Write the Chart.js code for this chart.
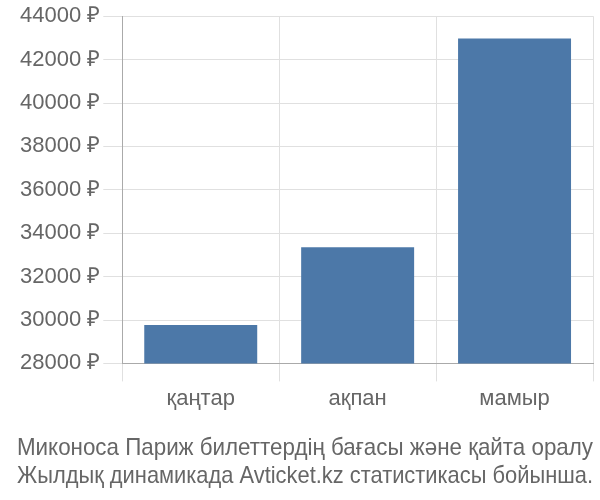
<!DOCTYPE html>
<html>
<head>
<meta charset="utf-8">
<script src="https://cdn.jsdelivr.net/npm/chart.js@4"></script>
<style>
html,body{margin:0;padding:0;background:#fff;}
#wrap{width:600px;height:500px;position:relative;}
</style>
</head>
<body>
<div id="wrap"><canvas id="c" width="600" height="500"></canvas></div>
<script>
const categories = ["қаңтар", "ақпан", "мамыр"];
const prices = [29770, 33350, 42970];
const yTicks = [28000, 30000, 32000, 34000, 36000, 38000, 40000, 42000, 44000];
const captionLines = ["Миконоса Париж билеттердің бағасы және қайта оралу", "Жылдық динамикада Avticket.kz статистикасы бойынша."];

const FONT = "'Liberation Sans', Arial, sans-serif";
new Chart(document.getElementById('c'), {
  type: 'bar',
  data: {
    labels: categories,
    datasets: [{
      data: prices,
      backgroundColor: '#4c78a8',
      borderWidth: 0,
      barPercentage: 0.9,
      categoryPercentage: 0.8
    }]
  },
  options: {
    responsive: false,
    animation: false,
    devicePixelRatio: 1,
    layout: { padding: { top: 4, right: 7, left: 17, bottom: 0 } },
    plugins: {
      legend: { display: false },
      tooltip: { enabled: false },
      title: {
        display: true,
        position: 'bottom',
        text: captionLines,
        color: '#666',
        font: { family: FONT, size: 24, weight: 'normal', lineHeight: 1.15 },
        padding: { top: 19, bottom: 10 }
      }
    },
    scales: {
      x: {
        grid: { color: '#e0e0e0', lineWidth: 1, tickLength: 18, offset: true, drawTicks: true },
        border: { color: '#aaa' },
        ticks: { color: '#666', font: { family: FONT, size: 22, lineHeight: 1.2 }, padding: 4 }
      },
      y: {
        min: yTicks[0],
        max: yTicks[yTicks.length - 1],
        afterBuildTicks: (axis) => { axis.ticks = yTicks.map(v => ({ value: v })); },
        grid: { color: '#e0e0e0', lineWidth: 1, tickLength: 19 },
        border: { color: '#aaa' },
        ticks: { color: '#666', font: { family: FONT, size: 22 }, padding: 3,
          callback: (v) => v + ' ₽' }
      }
    }
  }
});
</script>
</body>
</html>
